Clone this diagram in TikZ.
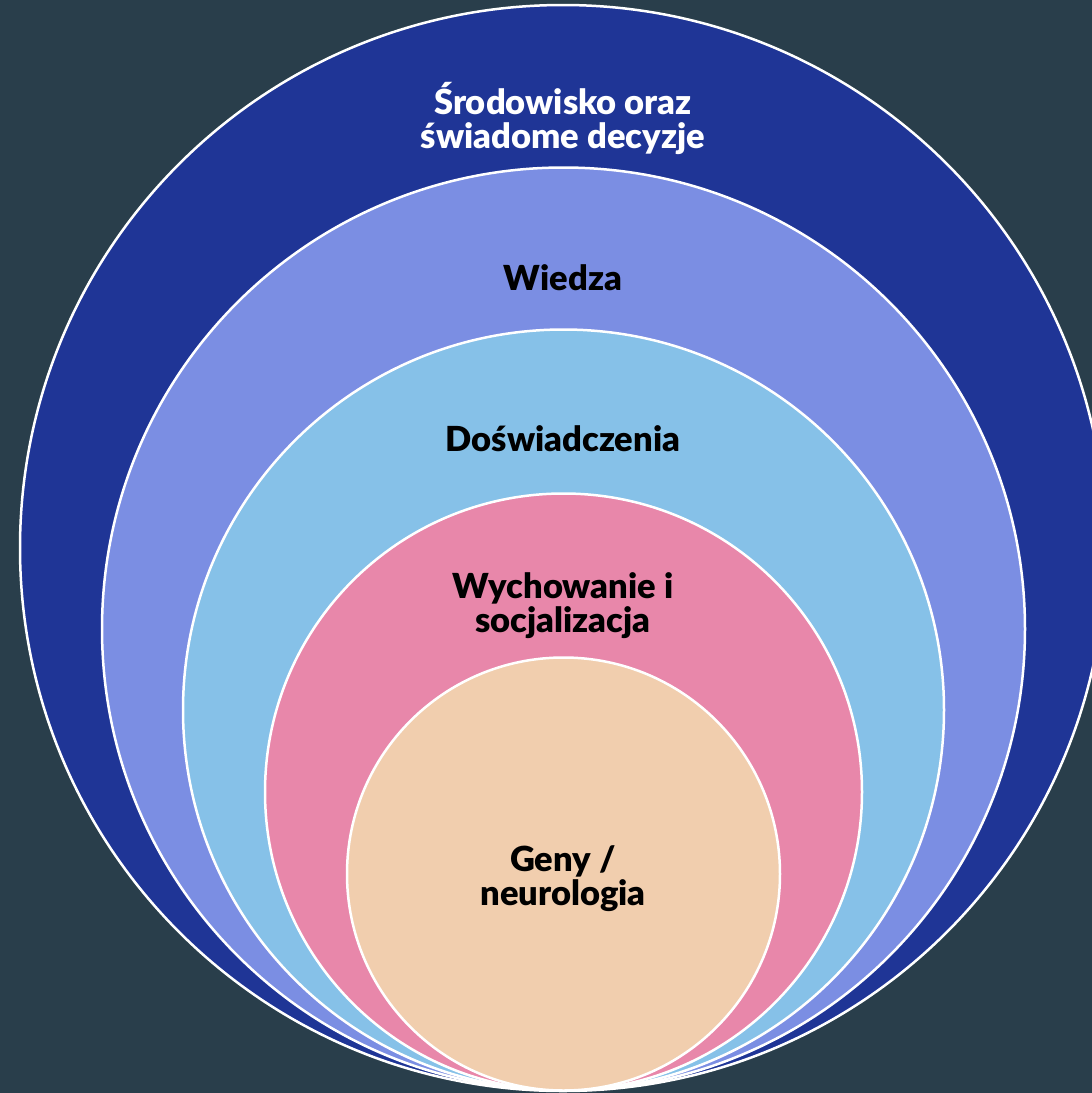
\documentclass[tikz,border=0pt]{standalone}
\usepackage{fontspec}
\setmainfont{Lato}[BoldFont={Lato Black}]
\definecolor{bg}{HTML}{293E4B}
\definecolor{c1}{HTML}{1F3596}
\definecolor{c2}{HTML}{7B8EE3}
\definecolor{c3}{HTML}{86C1E8}
\definecolor{c4}{HTML}{E887AA}
\definecolor{c5}{HTML}{F1CEAE}
\begin{document}
\begin{tikzpicture}[x=1pt,y=-1pt,
  ring/.style={circle,draw=white,line width=2.5pt,inner sep=0pt},
  lbl/.style={font=\fontsize{34.5}{34}\selectfont\bfseries,align=center,text=black}]
\fill[bg] (0,0) rectangle (1092,1093);
\useasboundingbox (0,0) rectangle (1092,1093);
\begin{scope}
\clip (0,0) rectangle (1092,1093);
\node[ring,fill=c1,minimum size=1086pt] (r1) at (563,548) {};
\node[ring,fill=c2,minimum size=923pt] (r2) at (563.5,629) {};
\node[ring,fill=c3,minimum size=761pt] (r3) at (563.5,710) {};
\node[ring,fill=c4,minimum size=597pt] (r4) at (563.5,792) {};
\node[ring,fill=c5,minimum size=433pt] (r5) at (563.5,874) {};
\end{scope}
\node[lbl,text=white] (t1) at (563,118) {Środowisko oraz\\świadome decyzje};
\node[lbl] (t2) at (563,278) {Wiedza};
\node[lbl] (t3) at (563,439) {Doświadczenia};
\node[lbl] (t4) at (563,606) {Wychowanie i\\socjalizacja};
\node[lbl] (t5) at (563,879) {Geny /\\neurologia};
\end{tikzpicture}
\end{document}
